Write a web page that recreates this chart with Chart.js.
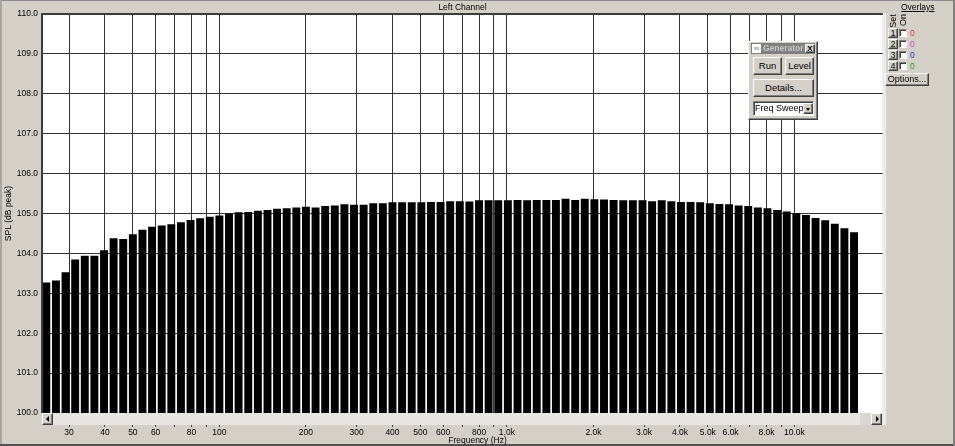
<!DOCTYPE html>
<html><head><meta charset="utf-8">
<script src="https://cdn.jsdelivr.net/npm/chart.js@4.4.1/dist/chart.umd.min.js"></script>
<style>
html,body{margin:0;padding:0;background:#d4d0c8;}
body{width:955px;height:446px;position:relative;overflow:hidden;font-family:"Liberation Sans",Arial,sans-serif;font-size:8.5px;color:#000;}
.abs{position:absolute;}
#c{position:absolute;left:0;top:0;}
.raised{background:#d4d0c8;box-sizing:border-box;border:1px solid;border-color:#fff #404040 #404040 #fff;box-shadow:inset -1px -1px 0 #808080;}
.sunken{background:#fff;box-sizing:border-box;border:1px solid;border-color:#808080 #fff #fff #808080;box-shadow:inset 1px 1px 0 #404040;}
.btn{text-align:center;font-size:9.5px;}
.rot{position:absolute;transform:rotate(-90deg);transform-origin:center center;white-space:nowrap;}
</style></head>
<body>
<canvas id="c" width="955" height="446"></canvas>

<!-- window frame -->
<div class="abs" style="left:0;top:0;width:955px;height:1px;background:#8a8a8a;z-index:5"></div>
<div class="abs" style="left:0;top:0;width:2px;height:446px;background:#a8a6a0;z-index:5"></div>
<div class="abs" style="left:0;top:444px;width:955px;height:2px;background:#505050;z-index:5"></div>
<div class="abs" style="left:953px;top:0;width:2px;height:446px;background:#808080;z-index:5"></div>

<!-- plot title -->
<div class="abs" style="left:42px;top:1px;width:841px;height:12px;line-height:12px;text-align:center;z-index:5">Left Channel</div>
<!-- light strip right of plot -->
<div class="abs" style="left:883px;top:13px;width:3px;height:412px;background:#ebeae6;z-index:5"></div>

<!-- scrollbar -->
<div class="abs" style="left:42px;top:413px;width:841px;height:12px;background:#e7e6e2;z-index:5"></div>
<div class="abs" style="left:860px;top:413px;width:11px;height:12px;background:#d9d7d1;z-index:5"></div>
<div class="abs raised" style="left:42px;top:413px;width:11px;height:12px;z-index:6"></div>
<div class="abs" style="left:46px;top:416px;width:0;height:0;border-top:3px solid transparent;border-bottom:3px solid transparent;border-right:3px solid #000;z-index:7"></div>
<div class="abs raised" style="left:871px;top:413px;width:11px;height:12px;z-index:6"></div>
<div class="abs" style="left:876px;top:416px;width:0;height:0;border-top:3px solid transparent;border-bottom:3px solid transparent;border-left:3px solid #000;z-index:7"></div>

<!-- x axis title -->
<div class="abs" style="left:0;top:435px;width:955px;height:10px;line-height:10px;text-align:center;z-index:5">Frequency (Hz)</div>

<!-- overlays panel -->
<div class="abs" style="left:901px;top:2px;text-decoration:underline;z-index:5">Overlays</div>
<div class="rot" style="left:885px;top:16px;width:16px;height:10px;line-height:10px;text-align:center;font-size:9px;z-index:5">Set</div>
<div class="rot" style="left:895px;top:15px;width:16px;height:10px;line-height:10px;text-align:center;font-size:9px;z-index:5">On</div>

<div class="abs raised btn" style="left:888px;top:28px;width:10px;height:10px;line-height:8px;font-size:8.5px;z-index:5">1</div>
<div class="abs sunken" style="left:899px;top:29px;width:8px;height:8px;z-index:5"></div>
<div class="abs" style="left:910px;top:28px;line-height:10px;color:#e03a3a;z-index:5">0</div>

<div class="abs raised btn" style="left:888px;top:39px;width:10px;height:10px;line-height:8px;font-size:8.5px;z-index:5">2</div>
<div class="abs sunken" style="left:899px;top:40px;width:8px;height:8px;z-index:5"></div>
<div class="abs" style="left:910px;top:39px;line-height:10px;color:#d048d0;z-index:5">0</div>

<div class="abs raised btn" style="left:888px;top:50px;width:10px;height:10px;line-height:8px;font-size:8.5px;z-index:5">3</div>
<div class="abs sunken" style="left:899px;top:51px;width:8px;height:8px;z-index:5"></div>
<div class="abs" style="left:910px;top:50px;line-height:10px;color:#2828d8;z-index:5">0</div>

<div class="abs raised btn" style="left:888px;top:61px;width:10px;height:10px;line-height:8px;font-size:8.5px;z-index:5">4</div>
<div class="abs sunken" style="left:899px;top:62px;width:8px;height:8px;z-index:5"></div>
<div class="abs" style="left:910px;top:61px;line-height:10px;color:#28a028;z-index:5">0</div>

<div class="abs raised btn" style="left:885px;top:73px;width:44px;height:13px;line-height:11px;font-size:9px;z-index:5">Options...</div>

<!-- generator window -->
<div class="abs raised" style="left:748px;top:41px;width:70px;height:79px;z-index:8">
  <div class="abs" style="left:2px;top:1px;width:64px;height:11px;background:#808080;overflow:hidden;">
    <div class="abs" style="left:1px;top:1px;width:9px;height:9px;background:#fff;color:#666;font-size:5px;line-height:9px;text-align:center;">ss</div>
    <div class="abs" style="left:12px;top:0;line-height:11px;color:#c8c8c8;font-weight:bold;font-size:8.5px;white-space:nowrap;">Generator</div>
    <div class="abs raised" style="left:54px;top:1px;width:10px;height:9px;font-weight:bold;font-size:8px;line-height:7px;text-align:center;">X</div>
  </div>
  <div class="abs raised btn" style="left:4px;top:15px;width:29px;height:18px;line-height:16px;">Run</div>
  <div class="abs raised btn" style="left:36px;top:15px;width:29px;height:18px;line-height:16px;">Level</div>
  <div class="abs raised btn" style="left:4px;top:37px;width:61px;height:18px;line-height:16px;">Details...</div>
  <div class="abs sunken" style="left:4px;top:59px;width:61px;height:15px;">
    <div class="abs" style="left:1px;top:0;line-height:13px;font-size:9px;white-space:nowrap;">Freq Sweep</div>
    <div class="abs raised" style="left:49px;top:1px;width:10px;height:11px;"></div>
    <div class="abs" style="left:52px;top:6px;width:0;height:0;border-left:2.5px solid transparent;border-right:2.5px solid transparent;border-top:3px solid #000;"></div>
  </div>
</div>

<script>
// Bar centre frequencies (Hz), 1/9-octave bands
const freqs = [
  25, 27, 29.16, 31.5, 34.02, 36.74, 39.69, 42.86, 46.29,
  50, 54, 58.32, 63, 68.04, 73.48, 79.37, 85.72, 92.58,
  100, 108, 116.6, 126, 136.1, 147, 158.7, 171.4, 185.2,
  200, 216, 233.3, 252, 272.2, 293.9, 317.5, 342.9, 370.3,
  400, 432, 466.6, 504, 544.3, 587.9, 635, 685.8, 740.7,
  800, 864, 933.1, 1008, 1089, 1176, 1270, 1372, 1481,
  1600, 1728, 1866, 2016, 2177, 2351, 2540, 2743, 2963,
  3200, 3456, 3733, 4032, 4354, 4703, 5080, 5486, 5925,
  6400, 6912, 7465, 8063, 8709, 9406, 10159, 10972, 11850,
  12800, 13824, 14931, 16127
];
// SPL (dB peak)
const spl = [
  103.27, 103.32, 103.53, 103.85, 103.94, 103.94, 104.08, 104.38, 104.36,
  104.48, 104.59, 104.67, 104.70, 104.73, 104.78, 104.84, 104.88, 104.92,
  104.95, 105.00, 105.03, 105.04, 105.07, 105.09, 105.12, 105.13, 105.15,
  105.17, 105.15, 105.19, 105.20, 105.23, 105.22, 105.22, 105.26, 105.26,
  105.28, 105.28, 105.28, 105.28, 105.29, 105.29, 105.31, 105.31, 105.30,
  105.33, 105.33, 105.33, 105.33, 105.34, 105.33, 105.34, 105.34, 105.34,
  105.37, 105.34, 105.37, 105.36, 105.35, 105.34, 105.33, 105.33, 105.33,
  105.31, 105.33, 105.31, 105.29, 105.29, 105.28, 105.26, 105.24, 105.23,
  105.20, 105.19, 105.15, 105.13, 105.09, 105.05, 105.01, 104.96, 104.89,
  104.83, 104.74, 104.63, 104.53
];
// X grid / tick positions and their labels
const gridFreqs = [30, 40, 50, 60, 70, 80, 90, 100, 200, 300, 400, 500, 600, 700, 800, 900,
  1000, 2000, 3000, 4000, 5000, 6000, 7000, 8000, 9000, 10000];
const gridLabels = ['30', '40', '50', '60', '', '80', '', '100', '200', '300', '400', '500', '600', '', '800', '',
  '1.0k', '2.0k', '3.0k', '4.0k', '5.0k', '6.0k', '', '8.0k', '', '10.0k'];
const xRange = [24.15, 20290];
const yRange = [100, 110];

const FONT = {family: '"Liberation Sans", Arial, sans-serif', size: 8.5};

const framePlugin = {
  id: 'frame',
  beforeDraw(chart) {
    const {ctx, chartArea: a} = chart;
    ctx.save();
    ctx.fillStyle = '#ffffff';
    ctx.fillRect(a.left, a.top, a.right - a.left, a.bottom - a.top);
    ctx.restore();
  },
  afterDraw(chart) {
    const {ctx, chartArea: a} = chart;
    ctx.save();
    ctx.fillStyle = '#3c3c3c';
    ctx.fillRect(a.left - 1, a.top - 1, a.right - a.left + 1, 2);
    ctx.fillRect(a.left - 1, a.top - 1, 2, a.bottom - a.top + 1);
    ctx.restore();
  }
};

new Chart(document.getElementById('c'), {
  type: 'bar',
  data: {
    datasets: [{
      data: freqs.map((f, i) => ({x: f, y: spl[i]})),
      backgroundColor: '#000000',
      borderWidth: 0,
      barPercentage: 0.83,
      categoryPercentage: 1
    }]
  },
  options: {
    responsive: false,
    animation: false,
    devicePixelRatio: 1,
    layout: {padding: {left: 0, top: 14, right: 72.3, bottom: 0}},
    plugins: {legend: {display: false}, tooltip: {enabled: false}, title: {display: false}},
    scales: {
      x: {
        type: 'logarithmic',
        position: 'bottom',
        min: xRange[0],
        max: xRange[1],
        offset: false,
        afterBuildTicks: s => { s.ticks = gridFreqs.map(v => ({value: v})); },
        afterFit: s => { s.height = 33; },
        grid: {color: '#333333', lineWidth: 1, offset: false, drawTicks: true, tickLength: 14, tickColor: '#444444', tickWidth: 1},
        border: {display: false},
        ticks: {autoSkip: false, maxRotation: 0, minRotation: 0, padding: 1, color: '#000', font: FONT,
          callback: (v, i) => gridLabels[i]}
      },
      y: {
        type: 'linear',
        position: 'left',
        min: yRange[0],
        max: yRange[1],
        afterFit: s => { s.width = 42; },
        grid: {color: '#333333', lineWidth: 1, drawTicks: false},
        border: {display: false},
        ticks: {stepSize: 1, padding: 4, color: '#000', font: FONT, callback: v => Number(v).toFixed(1)},
        title: {display: true, text: 'SPL (dB peak)', color: '#000', font: FONT, padding: {top: 4, bottom: 0}}
      }
    }
  },
  plugins: [framePlugin]
});
</script>
</body></html>
